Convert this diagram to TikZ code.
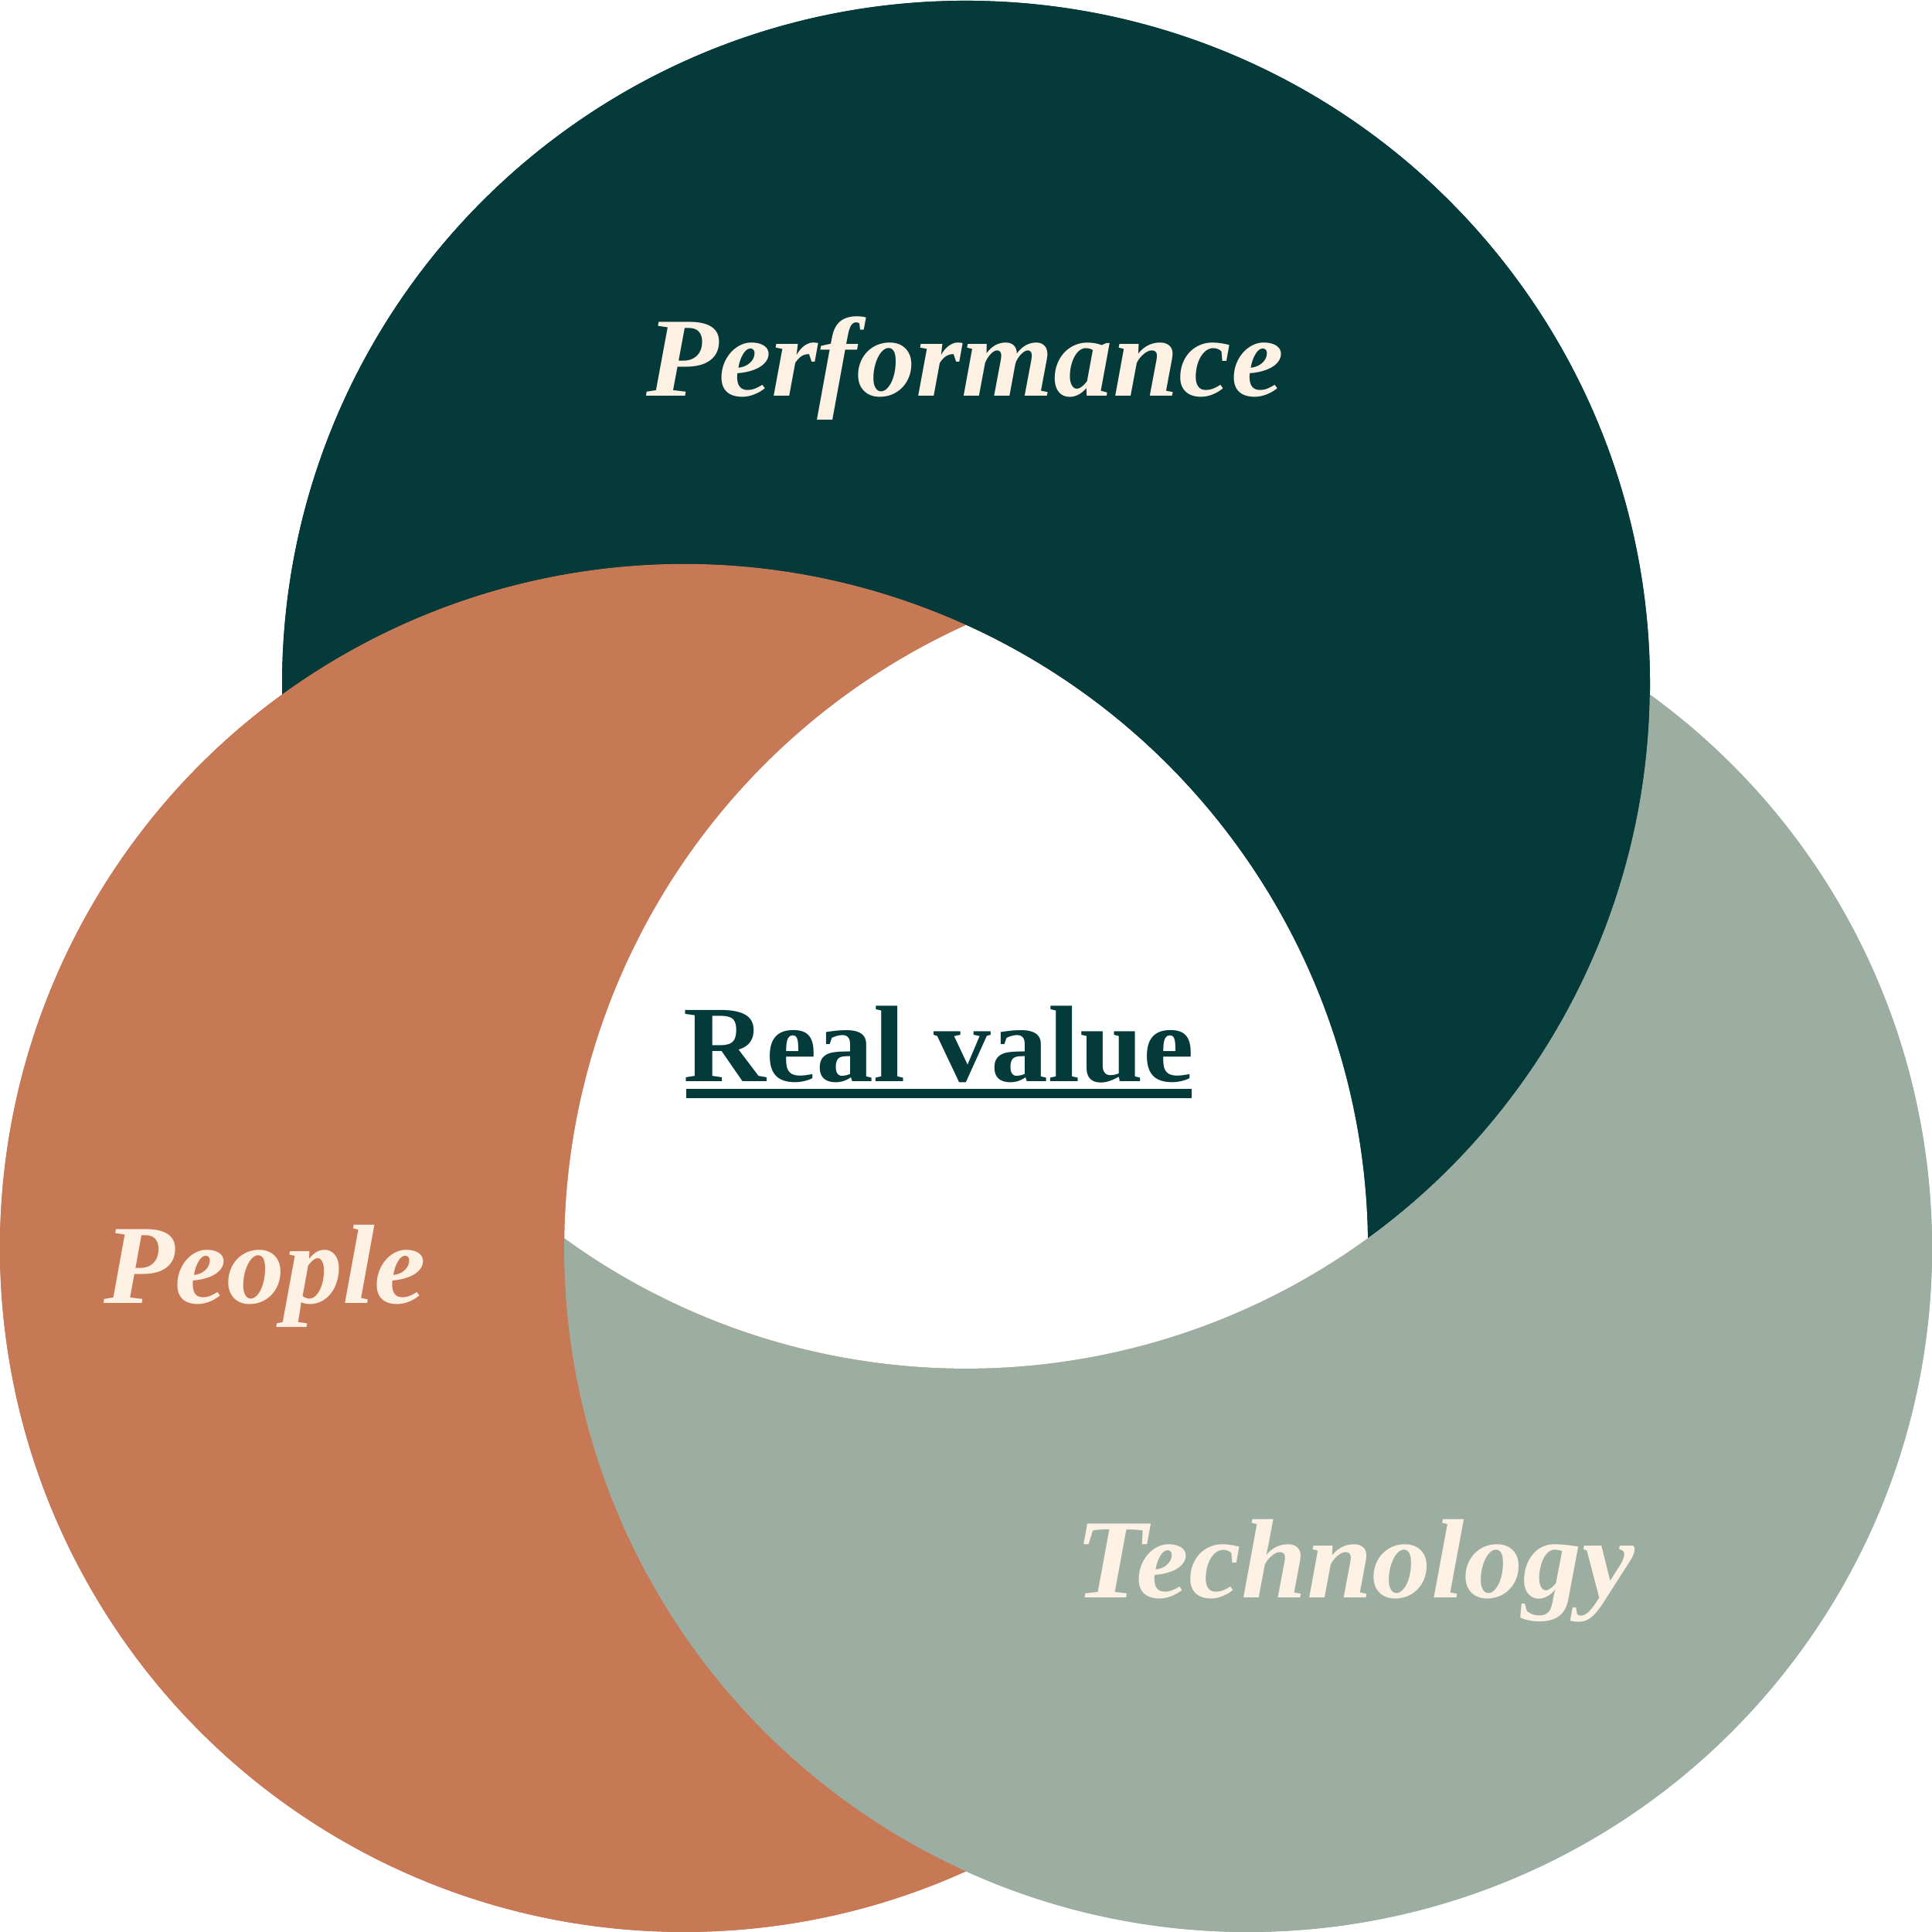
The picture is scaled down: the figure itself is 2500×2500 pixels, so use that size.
\documentclass[tikz,border=0pt]{standalone}
\usepackage{fontspec}
\setmainfont{Liberation Serif}
\usetikzlibrary{calc}
\definecolor{perfgreen}{HTML}{043A3A}
\definecolor{peopleorange}{HTML}{C77855}
\definecolor{techsage}{HTML}{9CAEA2}
\definecolor{cream}{HTML}{FDF1E3}
\begin{document}
\begin{tikzpicture}[x=0.01cm,y=0.01cm,
  label/.style={font=\fontsize{41.5}{48}\selectfont\bfseries\itshape, text=cream, anchor=base, inner sep=0pt},
  centrelabel/.style={font=\fontsize{40}{48}\selectfont\bfseries, text=perfgreen, anchor=base, inner sep=0pt},
  rr/.style={radius=885}]
\useasboundingbox (0,0) rectangle (2500,2500);
\coordinate (T) at (1250,1614);
\coordinate (L) at (885,885);
\coordinate (R) at (1615,885);
% underlay (hides anti-aliasing seams)
\fill[techsage] (R) circle[rr];
\fill[perfgreen] (T) circle[rr];
\fill[peopleorange] (L) circle[rr];
% Performance region: top circle outside the left circle
\fill[perfgreen] ($(T)+(-54.03:885)$) arc[rr, start angle=-54.03, end angle=180.83]
  arc[rr, start angle=125.97, end angle=0.83] -- cycle;
% People region: left circle outside the right circle
\fill[peopleorange] ($(L)+(65.64:885)$) arc[rr, start angle=65.64, end angle=294.36]
  arc[rr, start angle=245.64, end angle=114.36] -- cycle;
% Technology region: right circle outside the top circle
\fill[techsage] ($(R)+(54.03:885)$) arc[rr, start angle=54.03, end angle=-180.83]
  arc[rr, start angle=234.03, end angle=359.17] -- cycle;
% common centre
\fill[white] ($(L)+(65.64:885)$) arc[rr, start angle=65.64, end angle=0.83]
  arc[rr, start angle=305.97, end angle=234.03]
  arc[rr, start angle=179.17, end angle=114.36] -- cycle;
% labels
\node[label] (perf) at (1249,1987) {\scalebox{1.048}[1]{Performance}};
\node[label] (people) at (343,813) {\scalebox{1.028}[1]{People}};
\node[label] (tech) at (1753,432) {\scalebox{1.045}[1]{Technology}};
\node[centrelabel] (real) at (1215,1100) {\scalebox{1.05}[1]{Real value}};
\fill[perfgreen] (888,1079) rectangle (1542,1091);
\end{tikzpicture}
\end{document}
